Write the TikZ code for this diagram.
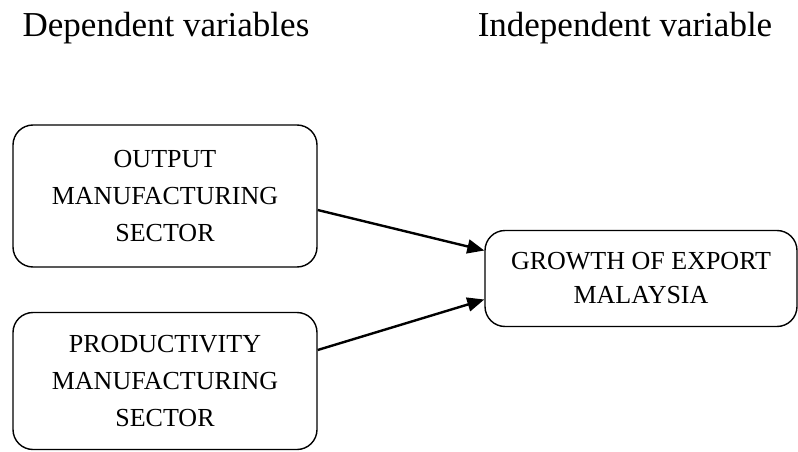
\documentclass[tikz,border=0pt]{standalone}
\usepackage{fontspec}
\setmainfont{Liberation Serif}
\usetikzlibrary{arrows.meta}

\begin{document}
\begin{tikzpicture}[x=1pt,y=1pt,>={Triangle[length=17pt,width=14pt]},line width=2.4pt]
\tikzset{var/.style = {shape=rectangle, draw, rounded corners=20pt, inner sep=0pt, line width=1.4pt, align=center, font=\fontsize{26}{37}\selectfont},
         head/.style = {anchor=base, font=\fontsize{35}{40}\selectfont}}
\useasboundingbox (0,0) rectangle (798,451);

%headings
\node[head] (dep) at (166,414) {Dependent variables};
\node[head] (indep) at (625,414) {Independent variable};

%boxes
\node[var] (output) at (165,255) [minimum width=304pt,minimum height=142pt] {OUTPUT\\MANUFACTURING\\SECTOR};
\node[var] (prod) at (165,70) [minimum width=304pt,minimum height=137pt] {PRODUCTIVITY\\MANUFACTURING\\SECTOR};
\node[var] (growth) at (641,172.5) [minimum width=312pt,minimum height=96pt,font=\fontsize{26}{34}\selectfont] {GROWTH OF EXPORT\\MALAYSIA};

%links
\draw[->] ([yshift=-14pt]output.east) -- ([yshift=28pt]growth.west);
\draw[->] ([yshift=31pt]prod.east) -- ([yshift=-21pt]growth.west);

\end{tikzpicture}
\end{document}
